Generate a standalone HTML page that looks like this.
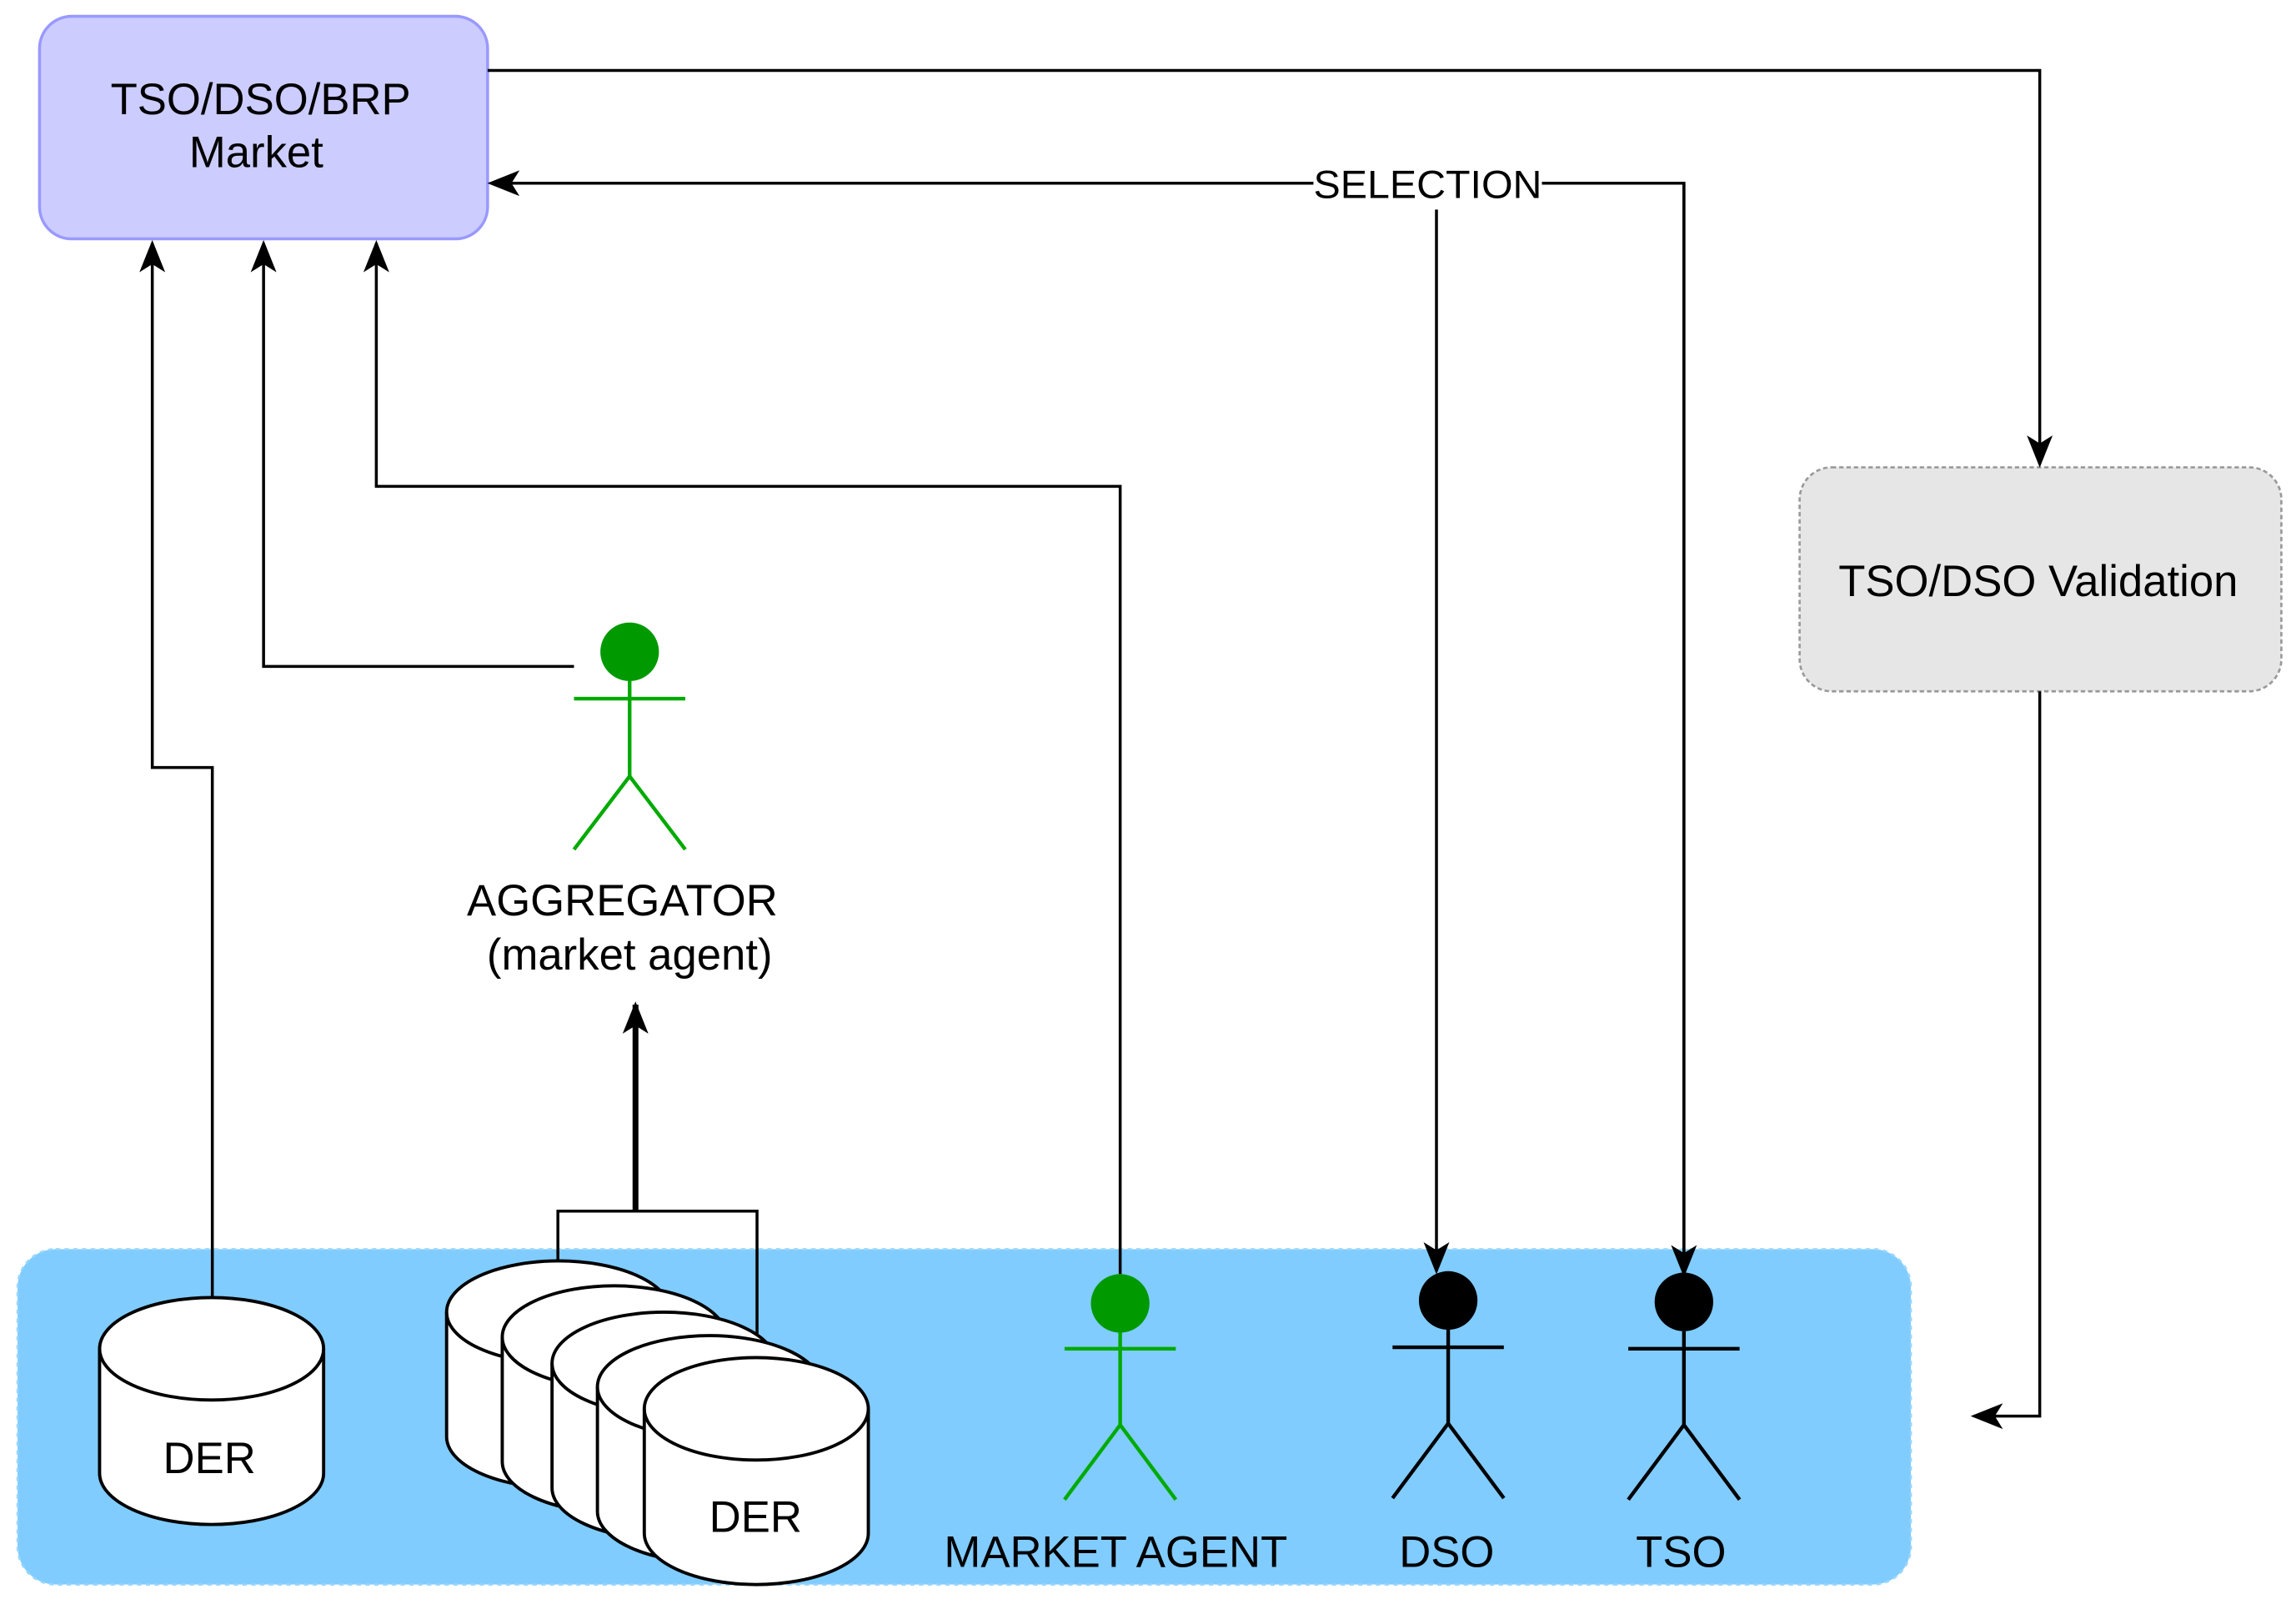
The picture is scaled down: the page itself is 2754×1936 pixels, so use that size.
<!DOCTYPE html>
<html><head><meta charset="utf-8"><style>html,body{margin:0;padding:0;background:#fff}svg{display:block}</style></head>
<body>
<svg width="2754" height="1936" viewBox="0 0 1568 1102" xmlns="http://www.w3.org/2000/svg" font-family="Liberation Sans, sans-serif">
<defs>
<marker id="a" viewBox="0 0 20 16" refX="18" refY="8" markerWidth="22" markerHeight="18" markerUnits="userSpaceOnUse" orient="auto">
<path d="M0,0 L20,8 L0,16 L5,8 Z" fill="#000"/></marker>
<g id="cyl">
<path d="M0,35 A76.5,35 0 0 1 153,35 L153,120 A76.5,35 0 0 1 0,120 Z" fill="#fff" stroke="#000" stroke-width="2.2"/>
<path d="M0,35 A76.5,35 0 0 0 153,35" fill="none" stroke="#000" stroke-width="2.2"/>
</g>
</defs>
<rect x="12" y="853" width="1293" height="229" rx="26" fill="#80ccff" stroke="#99d6ff" stroke-width="1.5" stroke-dasharray="3,3"/>
<rect x="27" y="11" width="306" height="152" rx="22" fill="#ccccff" stroke="#9999ff" stroke-width="2"/>
<text x="178" y="78" font-size="30" text-anchor="middle">TSO/DSO/BRP</text>
<text x="175" y="114" font-size="30" text-anchor="middle">Market</text>
<rect x="1229" y="319" width="329" height="153" rx="22" fill="#e6e6e6" stroke="#999" stroke-width="1.5" stroke-dasharray="3,2"/>
<text x="1392" y="407" font-size="30" text-anchor="middle">TSO/DSO Validation</text>
<g fill="none" stroke="#000" stroke-width="2">
<path d="M333,48 H1393 V317" marker-end="url(#a)"/>
<path d="M1150,870 V125 H1053" />
<path d="M1150,125 V870" marker-end="url(#a)"/>
<path d="M897,125 H335" marker-end="url(#a)"/>
<path d="M981,143 V868" marker-end="url(#a)"/>
<path d="M1393,472 V967 H1348" marker-end="url(#a)"/>
<path d="M145,886 V524 H104 V166" marker-end="url(#a)"/>
<path d="M392,455 H180 V166" marker-end="url(#a)"/>
<path d="M765,870 V332 H257 V166" marker-end="url(#a)"/>
<path d="M381,862 V827 H517 V912"/>
<path d="M434,827 V686" stroke-width="4" marker-end="url(#a)"/>
</g>
<rect x="897" y="110" width="156" height="30" fill="#fff"/>
<text x="975" y="135" font-size="27" text-anchor="middle" textLength="156" lengthAdjust="spacingAndGlyphs">SELECTION</text>
<use href="#cyl" x="68" y="886"/>
<text x="143" y="1006" font-size="30" text-anchor="middle">DER</text>
<use href="#cyl" x="305" y="861"/>
<use href="#cyl" x="343" y="878"/>
<use href="#cyl" x="377" y="896"/>
<use href="#cyl" x="408" y="912"/>
<use href="#cyl" x="440" y="927"/>
<text x="516" y="1046" font-size="30" text-anchor="middle">DER</text>
<g stroke="#00aa00" stroke-width="2.5" fill="none">
<path d="M392,477 H468 M430,465 V530 L392,580 M430,530 L468,580"/>
<path d="M727,921 H803 M765,910 V973 L727,1024 M765,973 L803,1024"/>
</g>
<circle cx="430" cy="445" r="20" fill="#009900"/>
<circle cx="765" cy="890" r="20" fill="#009900"/>
<text x="425" y="625" font-size="30" text-anchor="middle">AGGREGATOR</text>
<text x="430" y="662" font-size="30" text-anchor="middle">(market agent)</text>
<g stroke="#000" stroke-width="2.5" fill="none">
<path d="M951,920 H1027 M989,908 V972 L951,1023 M989,972 L1027,1023"/>
<path d="M1112,921 H1188 M1150,909 V973 L1112,1024 M1150,973 L1188,1024"/>
</g>
<circle cx="989" cy="888" r="20" fill="#000"/>
<circle cx="1150" cy="889" r="20" fill="#000"/>
<text x="762" y="1070" font-size="30" text-anchor="middle">MARKET AGENT</text>
<text x="988" y="1070" font-size="30" text-anchor="middle">DSO</text>
<text x="1148" y="1070" font-size="30" text-anchor="middle">TSO</text>
</svg>
</body></html>
